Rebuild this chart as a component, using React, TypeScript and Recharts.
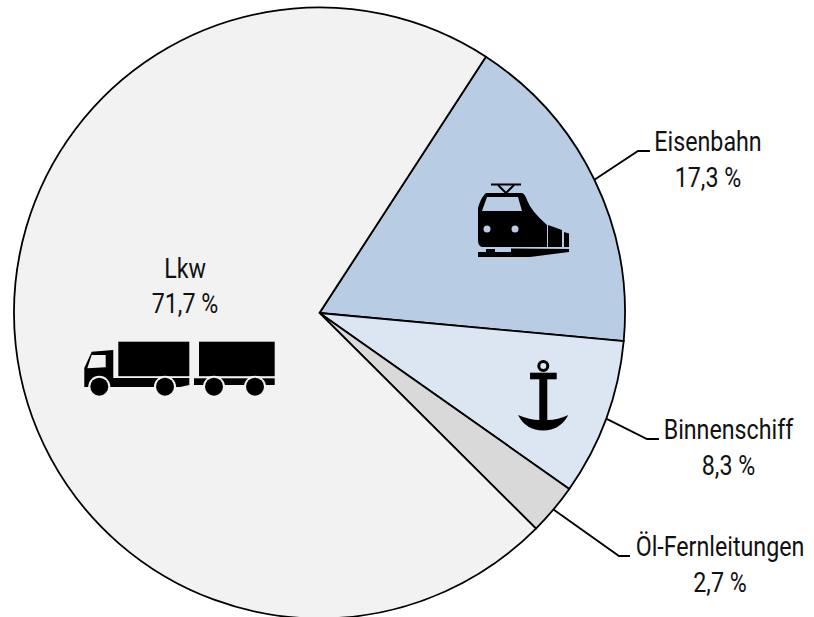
import React from 'react';
import { PieChart, Pie, Cell } from 'recharts';

const categories = ['Eisenbahn', 'Binnenschiff', 'Öl-Fernleitungen', 'Lkw'];
const shares = [17.3, 8.3, 2.7, 71.7];
const colors = ['#b8cce4', '#dce6f2', '#d9d9d9', '#f2f2f2'];

const data = categories.map((name, i) => ({ name, value: shares[i] }));

const FONT = 'Roboto, sans-serif';
const RAD = Math.PI / 180;
const NARROW = 0.83; // no Roboto Condensed here, so squeeze the regular cut

// text centre and baselines per slice, plus the leader elbow
const labelLayout = [
    { tx: 708, ny: 151, vy: 187, elbow: [638, 151], end: 650 },
    { tx: 728.5, ny: 439, vy: 475, elbow: [647, 439], end: 659 },
    { tx: 720, ny: 556, vy: 592, elbow: [619, 556], end: 630 },
    { tx: 185, ny: 278, vy: 313, elbow: null, end: 0 },
];

const formatShare = (v: number) => `${v.toFixed(1).replace('.', ',')} %`;

const TrainIcon = () => (
    <g>
        <rect x={491} y={183.5} width={30} height={2} fill="#000" />
        <path d="M498,185 L506,193 L514,185" fill="none" stroke="#000" strokeWidth={2} />
        <path d="M486,193 H522 Q525,194 527,200 Q531,211 547,225 V247 H482 Q478,246 478,240 V208 Q481,197 486,193Z" fill="#000" />
        <path d="M487,197 H518 L522,211 H482Z" fill="#b8cce4" />
        <circle cx={487} cy={229} r={3.5} fill="#b8cce4" />
        <circle cx={515} cy={229} r={3.5} fill="#b8cce4" />
        <path d="M548,225 L562,230 V247 H548Z" fill="#000" />
        <path d="M564,232 L569,233.5 V247 H564Z" fill="#000" />
        <path d="M478,252 H486 V249 H495 V252 H511 V248.5 L569,249 V252 L530,257 H478Z" fill="#000" />
    </g>
);

const AnchorIcon = () => (
    <g>
        <circle cx={543.3} cy={366} r={4.5} fill="none" stroke="#000" strokeWidth={3} />
        <rect x={530} y={372.7} width={26.7} height={6.6} fill="#000" />
        <rect x={539.3} y={379} width={8} height={44} fill="#000" />
        <path d="M518,415 Q530,420 539.3,420 H547.3 Q558,420 568.3,415 Q560,430.5 543.3,430.5 Q526,430.5 518,415Z" fill="#000" />
    </g>
);

const TruckIcon = () => (
    <g>
        <rect x={118.3} y={341.7} width={71} height={34.5} fill="#000" />
        <rect x={199} y={341.7} width={75.7} height={34.5} fill="#000" />
        <path d="M84.3,368 L91.7,351.7 L113.3,350 V378 H189.3 V385 L180,387 H84.3Z" fill="#000" />
        <path d="M91.7,355 H105.7 V367.3 L87.3,368.3Z" fill="#f2f2f2" />
        <rect x={194} y={378.3} width={80.7} height={6.7} fill="#000" />
        {[99.3, 165, 214, 255].map((x) => (
            <g key={x}>
                <circle cx={x} cy={386.7} r={11} fill="#f2f2f2" />
                <circle cx={x} cy={386.7} r={9} fill="#000" />
            </g>
        ))}
    </g>
);

const icons = [<TrainIcon />, <AnchorIcon />, null, <TruckIcon />];

const renderLabel = (props: any) => {
    const { cx, cy, midAngle, outerRadius, index, name, value } = props;
    const l = labelLayout[index];
    const sx = cx + outerRadius * Math.cos(midAngle * RAD);
    const sy = cy - outerRadius * Math.sin(midAngle * RAD);
    const common = {
        fontFamily: FONT,
        fontSize: 28,
        fill: '#111',
        textAnchor: 'middle' as const,
    };
    return (
        <g key={name}>
            {icons[index]}
            {l.elbow && (
                <polyline
                    points={`${sx},${sy} ${l.elbow[0]},${l.elbow[1]} ${l.end},${l.elbow[1]}`}
                    fill="none"
                    stroke="#000"
                    strokeWidth={1.8}
                />
            )}
            <text transform={`translate(${l.tx},${l.ny}) scale(${NARROW},1)`} {...common}>{name}</text>
            <text transform={`translate(${l.tx},${l.vy}) scale(${NARROW},1)`} {...common}>{formatShare(value)}</text>
        </g>
    );
};

export default function App() {
    return (
        <div style={{ position: 'absolute', left: 0, top: 0, width: 814, height: 617 }}>
            <PieChart width={814} height={617} margin={{ top: 0, right: 0, bottom: 0, left: 0 }}>
                <Pie
                    data={data}
                    dataKey="value"
                    nameKey="name"
                    cx={319.5}
                    cy={313}
                    outerRadius={305.5}
                    startAngle={57}
                    endAngle={-303}
                    stroke="#000"
                    strokeWidth={1.8}
                    label={renderLabel}
                    labelLine={false}
                    isAnimationActive={false}
                >
                    {data.map((d, i) => (
                        <Cell key={d.name} fill={colors[i]} />
                    ))}
                </Pie>
            </PieChart>
        </div>
    );
}
